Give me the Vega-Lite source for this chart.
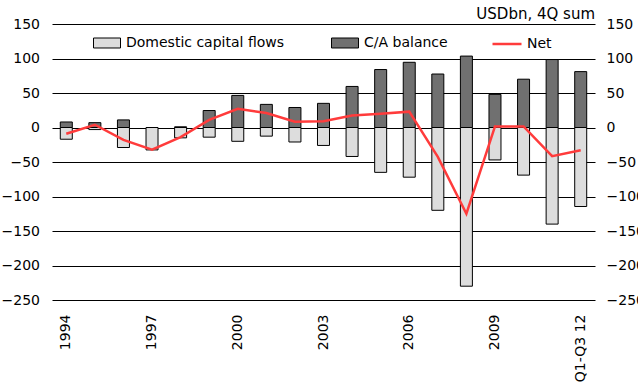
{
  "$schema": "https://vega.github.io/schema/vega-lite/v6.json",
  "width": 543,
  "height": 276,
  "autosize": "none",
  "padding": {"left": 52, "top": 24, "right": 43, "bottom": 85},
  "config": {
    "font": "DejaVu Sans",
    "view": {"stroke": null},
    "axis": {"labelFont": "DejaVu Sans", "labelFontSize": 14, "labelColor": "#000", "ticks": false, "domain": false},
    "legend": {"labelFont": "DejaVu Sans", "labelFontSize": 14, "labelColor": "#000", "padding": 0}
  },
  "title": {"text": "USDbn, 4Q sum", "anchor": "end", "frame": "group", "fontSize": 15, "fontWeight": "normal", "font": "DejaVu Sans", "color": "#000", "baseline": "bottom", "offset": 1, "dy": 21},
  "data": {"values": [
    {"year": "1994", "series": "C/A balance", "value": 8},
    {"year": "1994", "series": "Domestic capital flows", "value": -17},
    {"year": "1994", "series": "Net", "value": -9},
    {"year": "1995", "series": "C/A balance", "value": 7},
    {"year": "1995", "series": "Domestic capital flows", "value": -3},
    {"year": "1995", "series": "Net", "value": 4},
    {"year": "1996", "series": "C/A balance", "value": 11},
    {"year": "1996", "series": "Domestic capital flows", "value": -29},
    {"year": "1996", "series": "Net", "value": -18},
    {"year": "1997", "series": "C/A balance", "value": 0},
    {"year": "1997", "series": "Domestic capital flows", "value": -32.5},
    {"year": "1997", "series": "Net", "value": -32},
    {"year": "1998", "series": "C/A balance", "value": 1},
    {"year": "1998", "series": "Domestic capital flows", "value": -15},
    {"year": "1998", "series": "Net", "value": -14},
    {"year": "1999", "series": "C/A balance", "value": 24.6},
    {"year": "1999", "series": "Domestic capital flows", "value": -14},
    {"year": "1999", "series": "Net", "value": 11},
    {"year": "2000", "series": "C/A balance", "value": 46.5},
    {"year": "2000", "series": "Domestic capital flows", "value": -20},
    {"year": "2000", "series": "Net", "value": 27},
    {"year": "2001", "series": "C/A balance", "value": 33.5},
    {"year": "2001", "series": "Domestic capital flows", "value": -12.5},
    {"year": "2001", "series": "Net", "value": 21},
    {"year": "2002", "series": "C/A balance", "value": 29},
    {"year": "2002", "series": "Domestic capital flows", "value": -21},
    {"year": "2002", "series": "Net", "value": 8.5},
    {"year": "2003", "series": "C/A balance", "value": 35},
    {"year": "2003", "series": "Domestic capital flows", "value": -26},
    {"year": "2003", "series": "Net", "value": 9},
    {"year": "2004", "series": "C/A balance", "value": 59.5},
    {"year": "2004", "series": "Domestic capital flows", "value": -42},
    {"year": "2004", "series": "Net", "value": 17.5},
    {"year": "2005", "series": "C/A balance", "value": 84},
    {"year": "2005", "series": "Domestic capital flows", "value": -65},
    {"year": "2005", "series": "Net", "value": 20},
    {"year": "2006", "series": "C/A balance", "value": 94.5},
    {"year": "2006", "series": "Domestic capital flows", "value": -72},
    {"year": "2006", "series": "Net", "value": 23},
    {"year": "2007", "series": "C/A balance", "value": 77.5},
    {"year": "2007", "series": "Domestic capital flows", "value": -120},
    {"year": "2007", "series": "Net", "value": -42.5},
    {"year": "2008", "series": "C/A balance", "value": 103.5},
    {"year": "2008", "series": "Domestic capital flows", "value": -230},
    {"year": "2008", "series": "Net", "value": -125},
    {"year": "2009", "series": "C/A balance", "value": 48},
    {"year": "2009", "series": "Domestic capital flows", "value": -47},
    {"year": "2009", "series": "Net", "value": 1.5},
    {"year": "2010", "series": "C/A balance", "value": 70},
    {"year": "2010", "series": "Domestic capital flows", "value": -69},
    {"year": "2010", "series": "Net", "value": 1.5},
    {"year": "2011", "series": "C/A balance", "value": 98.5},
    {"year": "2011", "series": "Domestic capital flows", "value": -140},
    {"year": "2011", "series": "Net", "value": -41.5},
    {"year": "Q1-Q3 12", "series": "C/A balance", "value": 81},
    {"year": "Q1-Q3 12", "series": "Domestic capital flows", "value": -114.5},
    {"year": "Q1-Q3 12", "series": "Net", "value": -33}
  ]},
  "encoding": {
    "x": {
      "field": "year", "type": "nominal", "sort": null, "title": null,
      "scale": {"paddingInner": 0.58, "paddingOuter": 0.29},
      "axis": {"values": ["1994", "1997", "2000", "2003", "2006", "2009", "Q1-Q3 12"], "labelAngle": -90, "labelPadding": 14, "grid": false}
    }
  },
  "layer": [
    {
      "transform": [{"filter": "datum.series !== 'Net'"}],
      "mark": {"type": "bar", "stroke": "#000", "strokeWidth": 1},
      "encoding": {
        "y": {
          "field": "value", "type": "quantitative", "title": null,
          "scale": {"domain": [-250, 150], "nice": false},
          "axis": {"orient": "left", "values": [-250, -200, -150, -100, -50, 0, 50, 100, 150], "grid": true, "gridColor": "#000", "gridWidth": 1, "gridOpacity": 1, "labelPadding": 12.5}
        },
        "fill": {
          "field": "series", "type": "nominal",
          "scale": {"domain": ["Domestic capital flows", "C/A balance"], "range": ["#dddddd", "#707070"]},
          "legend": {"title": null, "orient": "none", "direction": "horizontal", "legendX": 41, "legendY": 5, "symbolType": "M-1,-0.37H1V0.37H-1Z", "symbolSize": 729, "symbolStrokeColor": "#000", "symbolStrokeWidth": 1, "symbolOpacity": 1, "labelOffset": 5, "columnPadding": 44}
        }
      }
    },
    {
      "transform": [{"filter": "datum.series === 'Net'"}],
      "mark": {"type": "line", "strokeWidth": 2.5},
      "encoding": {
        "y": {
          "field": "value", "type": "quantitative", "title": null,
          "scale": {"domain": [-250, 150], "nice": false},
          "axis": {"orient": "right", "values": [-250, -200, -150, -100, -50, 0, 50, 100, 150], "grid": false, "labelPadding": 11}
        },
        "stroke": {
          "field": "series", "type": "nominal",
          "scale": {"domain": ["Net"], "range": ["#ff3b3b"]},
          "legend": {"title": null, "orient": "none", "direction": "horizontal", "legendX": 439, "legendY": 4, "symbolType": "stroke", "symbolSize": 841, "symbolStrokeWidth": 2.5, "labelOffset": 4}
        }
      }
    }
  ],
  "resolve": {"axis": {"y": "independent"}}
}
